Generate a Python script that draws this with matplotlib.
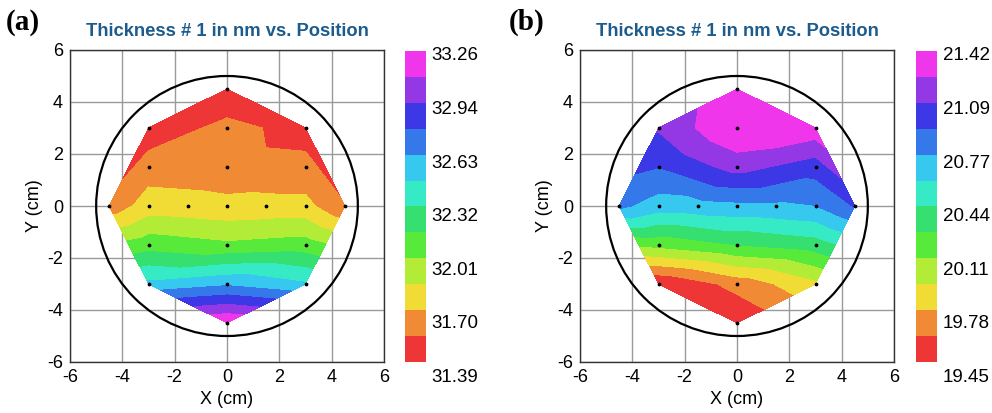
import numpy as np
import matplotlib
matplotlib.use("Agg")
import matplotlib.pyplot as plt
import matplotlib.tri as mtri
from matplotlib.patches import Circle
from matplotlib.transforms import ScaledTranslation

plt.rcParams['font.family'] = ['Liberation Sans', 'DejaVu Sans']
plt.rcParams['axes.unicode_minus'] = False

# measurement sites (cm)
x_pts = [0, -3, 0, 3, -3, 0, 3, -4.5, -3, -1.5, 0, 1.5, 3, 4.5, -3, 0, 3, -3, 0, 3, 0]
y_pts = [4.5, 3, 3, 3, 1.5, 1.5, 1.5, 0, 0, 0, 0, 0, 0, 0, -1.5, -1.5, -1.5, -3, -3, -3, -4.5]

# triangulation of the sites (point indices)
triangles = [(0, 1, 2), (0, 2, 3),
             (1, 4, 2), (4, 5, 2), (2, 5, 3), (5, 6, 3),
             (1, 7, 4), (4, 7, 8), (3, 6, 13), (6, 12, 13),
             (4, 8, 9), (4, 9, 5), (5, 9, 10), (5, 10, 11), (5, 11, 6), (6, 11, 12),
             (14, 9, 8), (14, 15, 9), (15, 10, 9), (15, 11, 10), (15, 16, 11), (16, 12, 11),
             (7, 8, 14), (7, 14, 17), (13, 12, 16), (13, 16, 19),
             (14, 17, 15), (17, 18, 15), (15, 18, 16), (18, 19, 16),
             (17, 20, 18), (18, 20, 19)]

# thickness (nm)
thick_a = [31.39, 31.43, 31.60, 31.48, 31.63, 31.61, 31.59, 31.60, 31.77, 31.76, 31.74,
           31.75, 31.75, 31.555, 32.10, 32.04, 32.08, 32.52, 32.61, 32.50, 33.26]
thick_b = [21.40, 21.11, 21.42, 21.36, 20.93, 21.155, 21.00, 20.80, 20.68, 20.70, 20.72,
           20.73, 20.76, 20.94, 20.15, 20.27, 20.35, 19.45, 19.67, 19.90, 19.46]

cbar_labels_a = ["31.39", "31.70", "32.01", "32.32", "32.63", "32.94", "33.26"]
cbar_labels_b = ["19.45", "19.78", "20.11", "20.44", "20.77", "21.09", "21.42"]

band_colors = ['#EE3636', '#F08A34', '#F0DC34', '#B2EC36', '#58EA3A', '#36E070',
               '#36EAC6', '#36C8EE', '#3478EA', '#3C38E6', '#9438E6', '#F036EA']

panel_tags = ["(a)", "(b)"]
title_text = "Thickness # 1 in nm vs. Position"
ticks = [-6, -4, -2, 0, 2, 4, 6]

fig = plt.figure(figsize=(9.92, 4.13), dpi=100)

ax_rects = [[70/992, 50/413, 314/992, 312/413], [580/992, 50/413, 314/992, 312/413]]
cb_rects = [[405/992, 51/413, 21/992, 311/413], [916/992, 51/413, 21/992, 311/413]]
tag_x = [6/992, 509/992]

for i, (vals, labels) in enumerate([(thick_a, cbar_labels_a), (thick_b, cbar_labels_b)]):
    r = ax_rects[i]
    ax = fig.add_axes([r[0], 1 - r[1] - r[3], r[2], r[3]])
    lo, hi = float(labels[0]), float(labels[-1])
    levels = np.linspace(lo, hi, len(band_colors) + 1)
    tri = mtri.Triangulation(x_pts, y_pts, triangles=triangles)
    cs = ax.tricontourf(tri, vals, levels=levels, colors=band_colors, zorder=2)
    ax.add_patch(Circle((0, 0), 5, fill=False, color='black', lw=1.6, zorder=4))
    ax.scatter(x_pts, y_pts, s=3, color='black', zorder=5)
    ax.set_xlim(-6, 6)
    ax.set_ylim(-6, 6)
    ax.set_xticks(ticks)
    ax.set_yticks(ticks)
    ax.grid(True, color='#9a9a9a', lw=1, zorder=1)
    ax.set_axisbelow(True)
    ax.tick_params(length=0, labelsize=13)
    ax.tick_params(axis='x', pad=5)
    ax.tick_params(axis='y', pad=5)
    for s in ax.spines.values():
        s.set_color('#333333')
        s.set_linewidth(1)
    ax.set_xlabel("X (cm)", fontsize=13, labelpad=4)
    ax.set_ylabel("Y (cm)", fontsize=13, labelpad=3)
    ax.set_title(title_text, fontsize=13.2, fontweight='bold', color='#1C5B8C', pad=10)
    fig.text(tag_x[i], 1 - 22/413, panel_tags[i], fontsize=21, fontweight='bold',
             family='Liberation Serif', va='center', ha='left')

    c = cb_rects[i]
    cax = fig.add_axes([c[0], 1 - c[1] - c[3], c[2], c[3]])
    cb = fig.colorbar(cs, cax=cax, ticks=levels[::2])
    cb.set_ticklabels(labels)
    cb.outline.set_visible(False)
    cax.tick_params(length=0, labelsize=13.5, pad=4)
    n = len(labels)
    for j, lab in enumerate(cax.get_yticklabels()):
        dy = (3 + 1.7 * (n - 1 - j)) / 100
        lab.set_transform(lab.get_transform() + ScaledTranslation(0, -dy, fig.dpi_scale_trans))

fig.savefig("out.png", dpi=100)
